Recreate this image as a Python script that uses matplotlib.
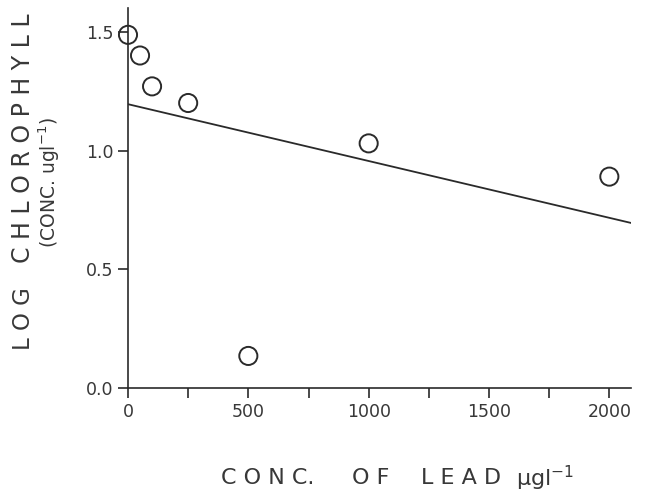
import matplotlib.pyplot as plt
from matplotlib.ticker import MultipleLocator

# lead concentration (ug/l) vs log chlorophyll
lead_conc = [0, 50, 100, 250, 500, 1000, 2000]
log_chl = [1.487, 1.40, 1.27, 1.20, 0.135, 1.03, 0.89]

# fitted regression line, end points
fit_x = [0, 2090]
fit_y = [1.195, 0.695]

x_ticks = [0, 500, 1000, 1500, 2000]
x_labels = ["0", "500", "1000", "1500", "2000"]
y_ticks = [0.0, 0.5, 1.0, 1.5]
y_labels = ["0.0", "0.5", "1.0", "1.5"]

ink = "#2a2a2a"
txt = "#383838"
W, H = 645, 493

fig = plt.figure(figsize=(W / 100, H / 100), dpi=100)
ax = fig.add_axes([128 / W, 1 - 388 / H, 503 / W, 380 / H])

ax.plot(fit_x, fit_y, color=ink, lw=1.3)
ax.scatter(lead_conc, log_chl, s=170, facecolors="none", edgecolors=ink,
           linewidths=1.4, zorder=3, clip_on=False)

ax.set_xlim(0, 2090)
ax.set_ylim(0, 1.60)
ax.set_xticks(x_ticks)
ax.set_xticklabels(x_labels)
ax.xaxis.set_minor_locator(MultipleLocator(250))
ax.set_yticks(y_ticks)
ax.set_yticklabels(y_labels)

for side in ("top", "right"):
    ax.spines[side].set_visible(False)
for side in ("left", "bottom"):
    ax.spines[side].set_color(ink)
    ax.spines[side].set_linewidth(1.2)

ax.tick_params(axis="both", which="both", direction="out", color=ink,
               width=1.2, length=7.5, labelcolor=txt, labelsize=12.5)
ax.tick_params(axis="x", which="major", pad=3)
ax.tick_params(axis="y", which="major", pad=3)

# axis titles, placed word by word (pixel coords -> figure fraction)
def fx(px):
    return px / W


def fy(py):
    return 1 - py / H


fig.text(fx(23), fy(350), "L O G", rotation=90, ha="center", va="bottom",
         fontsize=16.5, color=txt)
fig.text(fx(23), fy(263), "C H L O R O P H Y L L", rotation=90,
         ha="center", va="bottom", fontsize=17, color=txt)
fig.text(fx(49), fy(248), "(CONC. ugl$^{-1}$)", rotation=90,
         ha="center", va="bottom", fontsize=13.5, color=txt)

fig.text(fx(221), fy(478), "C O N C.", ha="left", va="center",
         fontsize=16, color=txt)
fig.text(fx(352), fy(478), "O F", ha="left", va="center",
         fontsize=16, color=txt)
fig.text(fx(421), fy(478), "L E A D", ha="left", va="center",
         fontsize=16, color=txt)
fig.text(fx(516), fy(478), "µgl$^{-1}$", ha="left", va="center",
         fontsize=16, color=txt)

fig.savefig("out.png", dpi=100)
